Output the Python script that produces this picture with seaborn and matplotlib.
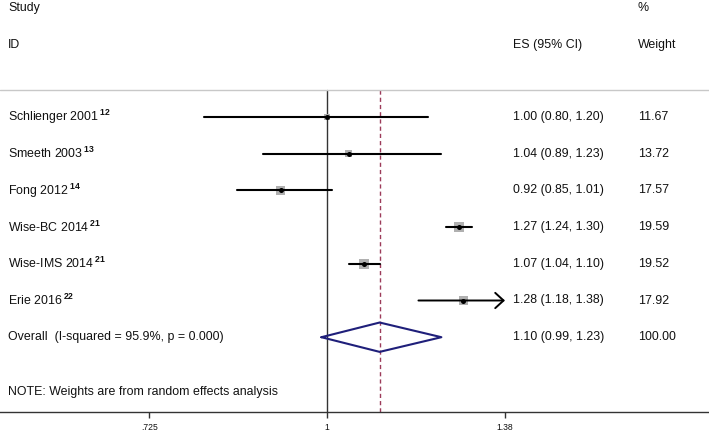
import numpy as np
import pandas as pd
import matplotlib
matplotlib.use("Agg")
import matplotlib.pyplot as plt
import seaborn as sns

# ---- data ----
studies = ["Schlienger 2001", "Smeeth 2003", "Fong 2012", "Wise-BC 2014",
           "Wise-IMS 2014", "Erie 2016"]
refs = ["12", "13", "14", "21", "21", "22"]
es = [1.00, 1.04, 0.92, 1.27, 1.07, 1.28]
lo = [0.80, 0.89, 0.85, 1.24, 1.04, 1.18]
hi = [1.20, 1.23, 1.01, 1.30, 1.10, 1.38]
weights = [11.67, 13.72, 17.57, 19.59, 19.52, 17.92]
overall_label = "Overall  (I-squared = 95.9%, p = 0.000)"
overall = [1.10, 0.99, 1.23]
overall_weight = 100.00
tick_vals = [0.725, 1, 1.38]
tick_labels = [".725", "1", "1.38"]
x_range = [0.5535, 1.996]
arrow_cap = 1.38  # CI truncated at plot limit, drawn with arrow

sns.set_style("white")
plt.rcParams["font.family"] = ["Liberation Sans", "DejaVu Sans"]
plt.rcParams["mathtext.fontset"] = "custom"
plt.rcParams["mathtext.rm"] = "Liberation Sans"
plt.rcParams["mathtext.bf"] = "Liberation Sans:bold"
plt.rcParams["text.color"] = "#111111"

fig = plt.figure(figsize=(7.09, 4.32), dpi=100)
ax = fig.add_axes([0, 20 / 432, 1, 412 / 432])
ax.set_xscale("log")
ax.set_xlim(*x_range)
row_px = 36.7
ax.set_ylim((412 - 117) / row_px, -117 / row_px)

rows = np.arange(len(studies))
n = len(studies)
ov_row = n
head_line = (90 - 117) / row_px
id_row = (45 - 117) / row_px
study_row = (8 - 117) / row_px
note_row = (392 - 117) / row_px
ybot = ax.get_ylim()[0]

fs = 8.9
trans = ax.get_yaxis_transform()  # x axes-fraction, y data

# reference lines
ax.axhline(head_line, color="#c8c8c8", lw=1)
ax.plot([1, 1], [head_line, ybot], color="#333333", lw=1, zorder=1)
ax.plot([overall[0], overall[0]], [head_line, ybot], color="#9c3b5a", lw=1,
        dashes=(3, 2.2), zorder=1)

# weight boxes
df = pd.DataFrame({"es": es, "row": rows, "w": weights})
sns.scatterplot(data=df, x="es", y="row", size="w", sizes=(22, 52),
                size_norm=(min(weights), max(weights)), marker="s",
                color="#b0b0b0", edgecolor="none", linewidth=0, legend=False,
                ax=ax, zorder=2)

# CI lines
for i in range(n):
    if hi[i] >= arrow_cap:
        ax.annotate("", xy=(hi[i], rows[i]), xytext=(lo[i], rows[i]),
                    arrowprops=dict(arrowstyle="->,head_length=0.6,head_width=0.55",
                                    color="black", lw=1.4, shrinkA=0, shrinkB=0),
                    zorder=3)
    else:
        ax.plot([lo[i], hi[i]], [rows[i], rows[i]], color="black", lw=1.5, zorder=3)
ax.scatter(es, rows, s=13, color="black", zorder=4, linewidths=0)

# overall diamond
h = 0.40
ax.plot([overall[1], overall[0], overall[2], overall[0], overall[1]],
        [ov_row, ov_row - h, ov_row, ov_row + h, ov_row],
        color="#1f1f7a", lw=1.5, zorder=3)

# text columns
x_lab, x_es, x_w = 8 / 709, 513 / 709, 638 / 709
ax.text(x_lab, study_row, "Study", transform=trans, va="center", fontsize=fs)
ax.text(x_lab, id_row, "ID", transform=trans, va="center", fontsize=fs)
ax.text(x_es, id_row, "ES (95% CI)", transform=trans, va="center", fontsize=fs)
ax.text(x_w, study_row, "%", transform=trans, va="center", fontsize=fs)
ax.text(x_w, id_row, "Weight", transform=trans, va="center", fontsize=fs)
for i in range(n):
    ax.text(x_lab, rows[i], f"{studies[i]}$\\,^{{\\mathbf{{{refs[i]}}}}}$",
            transform=trans, va="center", fontsize=fs)
    ax.text(x_es, rows[i], f"{es[i]:.2f} ({lo[i]:.2f}, {hi[i]:.2f})",
            transform=trans, va="center", fontsize=fs)
    ax.text(x_w, rows[i], f"{weights[i]:.2f}", transform=trans, va="center", fontsize=fs)
ax.text(x_lab, ov_row, overall_label, transform=trans, va="center", fontsize=fs)
ax.text(x_es, ov_row, f"{overall[0]:.2f} ({overall[1]:.2f}, {overall[2]:.2f})",
        transform=trans, va="center", fontsize=fs)
ax.text(x_w, ov_row, f"{overall_weight:.2f}", transform=trans, va="center", fontsize=fs)
ax.text(x_lab, note_row, "NOTE: Weights are from random effects analysis",
        transform=trans, va="center", fontsize=fs)

# axis styling
for s in ["top", "left", "right"]:
    ax.spines[s].set_visible(False)
ax.spines["bottom"].set_color("#333333")
ax.spines["bottom"].set_linewidth(1)
ax.set_xticks(tick_vals)
ax.set_xticklabels(tick_labels)
ax.xaxis.set_minor_locator(matplotlib.ticker.NullLocator())
ax.tick_params(axis="x", bottom=True, length=4, width=1, color="#333333",
               labelsize=6.2, pad=4, labelcolor="#111111")
ax.set_yticks([])
ax.set_xlabel("")
ax.set_ylabel("")

fig.savefig("out.png", dpi=100)
